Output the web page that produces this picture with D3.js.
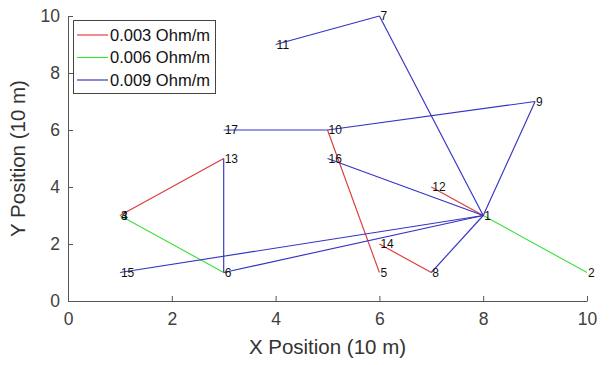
<!DOCTYPE html>
<html><head><meta charset="utf-8">
<script src="https://cdn.jsdelivr.net/npm/d3@7"></script>
<style>body{margin:0;background:#fff}svg{display:block}text{font-family:Arial,"Liberation Sans",Helvetica,sans-serif}</style>
</head><body>
<svg id="c" width="609" height="365"></svg>
<script>
// Node ids and positions (10 m units)
const nodeIds = [1,2,3,4,5,6,7,8,9,10,11,12,13,14,15,16,17];
const nodeX   = [8,10,1,1,6,3,6,7,9,5,4,7,3,6,1,5,3];
const nodeY   = [3,1,3,3,1,1,10,1,7,6,9,4,5,2,1,5,6];
// Edges grouped by resistance
const seriesNames = ["0.003 Ohm/m","0.006 Ohm/m","0.009 Ohm/m"];
const seriesColors = ["#e03a3a","#3ee03e","#3434c4"];
const edgesRed   = [[3,13],[10,5],[14,8],[12,1]];
const edgesGreen = [[3,6],[1,2]];
const edgesBlue  = [[11,7],[7,1],[17,10],[10,9],[9,1],[16,1],[13,6],[15,1],[6,1],[8,1]];
const xTicks = [0,2,4,6,8,10];
const yTicks = [0,2,4,6,8,10];

const svg = d3.select("#c");
const x = d3.scaleLinear().domain([0,10]).range([68,587]);
const y = d3.scaleLinear().domain([0,10]).range([301,16]);
const axisColor = "#555";

const pos = {};
nodeIds.forEach((id,i)=>pos[id]=[nodeX[i],nodeY[i]]);

const groups = [edgesRed, edgesGreen, edgesBlue];
groups.forEach((edges,gi)=>{
  svg.append("g").selectAll("line").data(edges).join("line")
    .attr("x1",d=>x(pos[d[0]][0])).attr("y1",d=>y(pos[d[0]][1]))
    .attr("x2",d=>x(pos[d[1]][0])).attr("y2",d=>y(pos[d[1]][1]))
    .attr("stroke",seriesColors[gi]).attr("stroke-width",1.15);
});

// node labels
svg.append("g").selectAll("text").data(nodeIds).join("text")
  .attr("x",(d,i)=>x(nodeX[i])+1).attr("y",(d,i)=>y(nodeY[i]))
  .attr("dy","0.36em").attr("font-size",12).attr("fill","#111")
  .text(d=>d);

// axes
const xa = svg.append("g").attr("transform",`translate(0,${y(0)})`)
  .call(d3.axisBottom(x).tickValues(xTicks).tickSize(-5).tickPadding(12).tickSizeOuter(0));
const ya = svg.append("g").attr("transform",`translate(${x(0)},0)`)
  .call(d3.axisLeft(y).tickValues(yTicks).tickSize(-5).tickPadding(8).tickSizeOuter(0));
[xa,ya].forEach(a=>{
  a.select(".domain").attr("stroke",axisColor);
  a.selectAll(".tick line").attr("stroke",axisColor);
  a.selectAll(".tick text").attr("fill","#404040").attr("font-size",17.5).attr("font-family","Arial,'Liberation Sans',sans-serif");
});

svg.append("text").attr("x",(x(0)+x(10))/2).attr("y",354)
  .attr("text-anchor","middle").attr("font-size",20.5).attr("fill","#333")
  .text("X Position (10 m)");
svg.append("text").attr("transform",`translate(25,${(y(0)+y(10))/2}) rotate(-90)`)
  .attr("text-anchor","middle").attr("font-size",20.5).attr("fill","#333")
  .text("Y Position (10 m)");

// legend
const lg = svg.append("g");
lg.append("rect").attr("x",73.5).attr("y",20.5).attr("width",142).attr("height",73)
  .attr("fill","#fff").attr("stroke","#444").attr("stroke-width",1);
seriesNames.forEach((n,i)=>{
  const ly = 35 + i*22.5;
  lg.append("line").attr("x1",77).attr("x2",108).attr("y1",ly).attr("y2",ly)
    .attr("stroke",seriesColors[i]).attr("stroke-width",1.15);
  lg.append("text").attr("x",110).attr("y",ly).attr("dy","0.36em")
    .attr("font-size",16.5).attr("fill","#111").text(n);
});
</script>
</body></html>
